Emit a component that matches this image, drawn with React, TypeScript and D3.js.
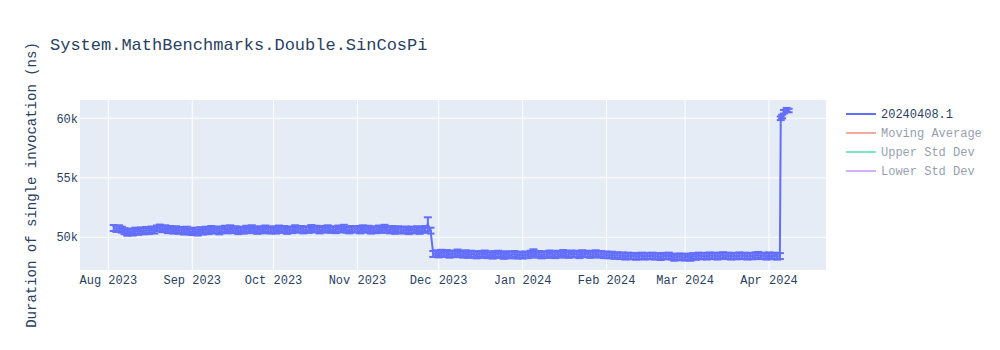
import React from "react";
import * as d3 from "d3";

const title = "System.MathBenchmarks.Double.SinCosPi";
const yTitle = "Duration of single invocation (ns)";
const legendItems = ["20240408.1", "Moving Average", "Upper Std Dev", "Lower Std Dev"];
const legendColors = ["#636efa", "#EF553B", "#00cc96", "#ab63fa"];
const legendVisible = [true, false, false, false];

const yTicks = [50000, 55000, 60000];
const yTickLabels = ["50k", "55k", "60k"];

// daily values (ns), each block starts at the given date
const aug2023Start = "2023-08-03";
const aug2023 = [50780, 50700, 50760, 50640, 50520, 50380, 50480, 50400, 50560, 50460, 50580, 50500, 50620, 50520, 50660, 50560, 50740, 50820, 50680, 50760, 50600, 50700, 50560, 50680, 50540, 50620, 50480, 50640, 50500];
const sep2023Start = "2023-09-01";
const sep2023 = [50440, 50560, 50400, 50600, 50480, 50640, 50520, 50700, 50560, 50660, 50500, 50620, 50720, 50580, 50760, 50600, 50680, 50520, 50640, 50560, 50720, 50600, 50760, 50620, 50540, 50680, 50580, 50740, 50620, 50560];
const oct2023Start = "2023-10-01";
const oct2023 = [50680, 50560, 50740, 50620, 50700, 50540, 50660, 50600, 50760, 50640, 50700, 50580, 50680, 50620, 50780, 50660, 50720, 50580, 50640, 50700, 50760, 50620, 50680, 50600, 50740, 50660, 50800, 50640, 50580, 50700, 50640];
const nov2023Start = "2023-11-01";
const nov2023 = [50700, 50580, 50760, 50640, 50720, 50560, 50680, 50600, 50740, 50620, 50800, 50660, 50580, 50700, 50540, 50680, 50620, 50560, 50660, 50520, 50640, 50580, 50680, 50540, 50620, 50700, 51100, 50560, 48600, 48660];
const dec2023Start = "2023-12-01";
const dec2023 = [48560, 48700, 48600, 48680, 48540, 48640, 48580, 48720, 48600, 48540, 48660, 48520, 48620, 48560, 48480, 48600, 48520, 48640, 48500, 48580, 48460, 48560, 48620, 48520, 48440, 48580, 48480, 48540, 48600, 48460, 48540];
const jan2024Start = "2024-01-01";
const jan2024 = [48460, 48560, 48500, 48620, 48740, 48540, 48600, 48480, 48580, 48520, 48640, 48560, 48500, 48620, 48540, 48680, 48580, 48520, 48640, 48560, 48620, 48500, 48660, 48580, 48620, 48520, 48600, 48660, 48540, 48600, 48500];
const feb2024Start = "2024-02-01";
const feb2024 = [48560, 48480, 48540, 48440, 48500, 48420, 48480, 48380, 48460, 48400, 48440, 48360, 48420, 48460, 48380, 48440, 48400, 48460, 48380, 48420, 48340, 48440, 48400, 48460, 48380, 48280, 48340, 48400, 48320];
const mar2024Start = "2024-03-01";
const mar2024 = [48300, 48380, 48280, 48420, 48360, 48460, 48400, 48440, 48380, 48480, 48420, 48460, 48380, 48440, 48500, 48420, 48460, 48380, 48440, 48400, 48480, 48420, 48460, 48380, 48440, 48400, 48480, 48520, 48420, 48460, 48380];
const apr2024Start = "2024-04-01";
const apr2024 = [48480, 48400, 48460, 48380, 48420];

// final points after the regression (explicit timestamps)
const tailDates = ["2024-04-05T08:00:00Z", "2024-04-05T20:00:00Z", "2024-04-06T12:00:00Z", "2024-04-07T12:00:00Z", "2024-04-08T06:00:00Z"];
const tailValues = [60000, 60150, 60550, 60720, 60650];

const defaultError = 250;
const errorOverrides: Record<string, number> = { "2023-11-27": 580 };

const xDomain = ["2023-07-21T13:00:00Z", "2024-04-22T01:00:00Z"];
const yDomain = [47252, 61538];

type Pt = { d: Date; v: number; e: number };

function buildPoints(): Pt[] {
  const blocks: [string, number[]][] = [
    [aug2023Start, aug2023], [sep2023Start, sep2023], [oct2023Start, oct2023],
    [nov2023Start, nov2023], [dec2023Start, dec2023], [jan2024Start, jan2024],
    [feb2024Start, feb2024], [mar2024Start, mar2024], [apr2024Start, apr2024],
  ];
  const pts: Pt[] = [];
  blocks.forEach(([start, vals]) => {
    const s = new Date(start + "T00:00:00Z");
    vals.forEach((v, i) => {
      const d = d3.utcDay.offset(s, i);
      const key = d3.utcFormat("%Y-%m-%d")(d);
      pts.push({ d, v, e: errorOverrides[key] ?? defaultError });
    });
  });
  tailDates.forEach((t, i) => pts.push({ d: new Date(t), v: tailValues[i], e: 150 }));
  return pts;
}

const FONT = "'Liberation Mono', 'Courier New', monospace";
const TEXT = "#2a3f5f";

export default function App() {
  const W = 1000, H = 350;
  const L = 80, R = 826, T = 100, B = 270;
  const x = d3.scaleUtc().domain(xDomain.map((s) => new Date(s))).range([L, R]);
  const y = d3.scaleLinear().domain(yDomain).range([B, T]);
  const pts = buildPoints();
  const line = d3.line<Pt>().x((p) => x(p.d)).y((p) => y(p.v));
  const xTicks = x.ticks(d3.utcMonth.every(1)!);
  const fmt = d3.utcFormat("%b %Y");
  const color = "#636efa";

  return (
    <svg width={W} height={H} style={{ position: "absolute", left: 0, top: 0, background: "#fff" }} fontFamily={FONT}>
      <rect x={L} y={T} width={R - L} height={B - T} fill="#e5ecf6" />
      {xTicks.map((t, i) => (
        <line key={"gx" + i} x1={x(t)} x2={x(t)} y1={T} y2={B} stroke="#fff" strokeWidth={1} />
      ))}
      {yTicks.map((t, i) => (
        <line key={"gy" + i} x1={L} x2={R} y1={y(t)} y2={y(t)} stroke="#fff" strokeWidth={1} />
      ))}
      <clipPath id="plotclip">
        <rect x={L} y={T} width={R - L} height={B - T} />
      </clipPath>
      <g clipPath="url(#plotclip)">
        {pts.map((p, i) => {
          const cx = x(p.d);
          const y1 = y(p.v + p.e);
          const y2 = y(p.v - p.e);
          return (
            <g key={"eb" + i} stroke={color} strokeWidth={2}>
              <line x1={cx} x2={cx} y1={y1} y2={y2} />
              <line x1={cx - 4} x2={cx + 4} y1={y1} y2={y1} />
              <line x1={cx - 4} x2={cx + 4} y1={y2} y2={y2} />
            </g>
          );
        })}
        <path d={line(pts) || ""} fill="none" stroke={color} strokeWidth={2} />
      </g>
      {xTicks.map((t, i) => (
        <text key={"tx" + i} x={x(t)} y={284} textAnchor="middle" fontSize={12} fill={TEXT}>
          {fmt(t)}
        </text>
      ))}
      {yTicks.map((t, i) => (
        <text key={"ty" + i} x={78} y={y(t)} dy="0.35em" textAnchor="end" fontSize={12} fill={TEXT}>
          {yTickLabels[i]}
        </text>
      ))}
      <text x={50} y={50} fontSize={17} fill={TEXT}>{title}</text>
      <text transform={`translate(36,${(T + B) / 2}) rotate(-90)`} textAnchor="middle" fontSize={14} fill={TEXT}>
        {yTitle}
      </text>
      {legendItems.map((name, i) => {
        const ly = 114 + i * 19;
        return (
          <g key={"lg" + i} opacity={legendVisible[i] ? 1 : 0.5}>
            <line x1={846} x2={876} y1={ly} y2={ly} stroke={legendColors[i]} strokeWidth={2} />
            <text x={881} y={ly} dy="0.35em" fontSize={12} fill={TEXT}>{name}</text>
          </g>
        );
      })}
    </svg>
  );
}
